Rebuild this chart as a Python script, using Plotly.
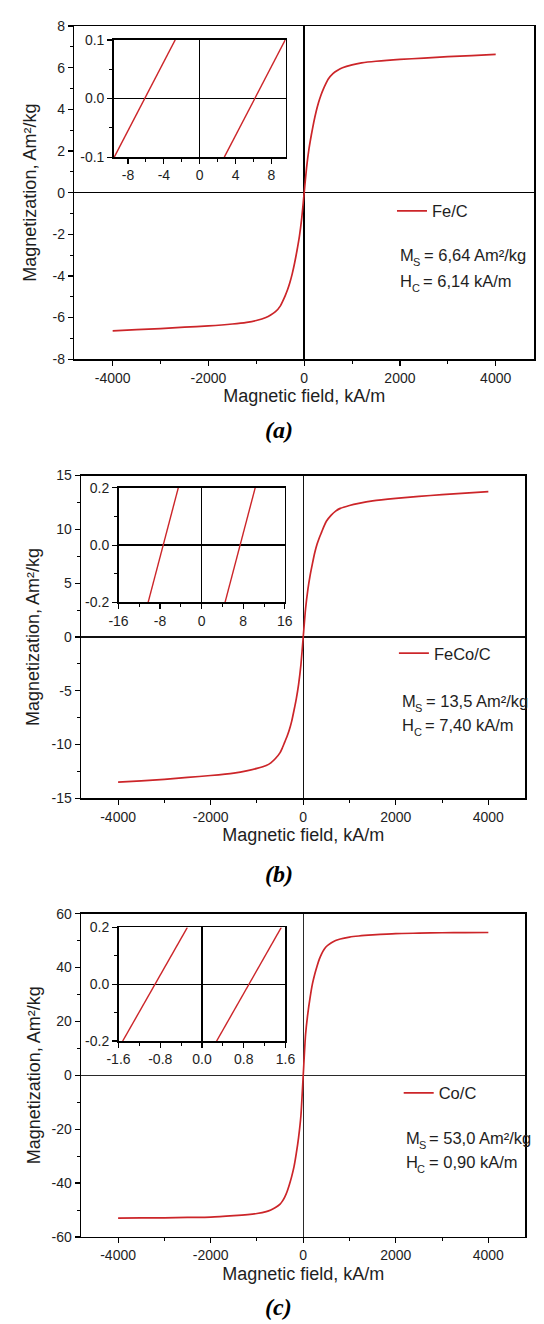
import plotly.graph_objects as go

# ---------------------------------------------------------------
# Magnetisation loops M(H) of the carbon-encapsulated nanoparticles
# ---------------------------------------------------------------

# common field grid of the main loops, kA/m
field = [-4000, -3500, -3000, -2500, -2000, -1500, -1200, -1000, -800, -700, -600, -500,
         -450, -400, -350, -300, -250, -200, -150, -100, -50,
         0, 50, 100, 150, 200, 250, 300, 350, 400, 450, 500,
         600, 700, 800, 1000, 1200, 1500, 2000, 2500, 3000, 3500, 4000]

# magnetisation, Am^2/kg
fe_mag = [-6.64, -6.58, -6.53, -6.46, -6.40, -6.31, -6.23, -6.14, -6.00, -5.88, -5.72, -5.45,
          -5.22, -4.97, -4.68, -4.33, -3.90, -3.38, -2.78, -2.10, -1.20,
          0.00, 1.20, 2.10, 2.78, 3.38, 3.90, 4.33, 4.68, 4.97, 5.22, 5.45,
          5.72, 5.88, 6.00, 6.14, 6.23, 6.31, 6.40, 6.46, 6.53, 6.58, 6.64]
feco_mag = [-13.50, -13.37, -13.23, -13.06, -12.88, -12.65, -12.42, -12.22, -11.95, -11.70, -11.30, -10.75,
            -10.30, -9.77, -9.25, -8.63, -7.85, -6.84, -5.75, -4.40, -2.60,
            0.00, 2.60, 4.40, 5.75, 6.84, 7.85, 8.63, 9.25, 9.77, 10.30, 10.75,
            11.30, 11.70, 11.95, 12.22, 12.42, 12.65, 12.88, 13.06, 13.23, 13.37, 13.50]
co_mag = [-53.0, -52.95, -52.9, -52.75, -52.6, -52.1, -51.7, -51.3, -50.6, -50.0, -49.1, -47.8,
          -46.7, -45.2, -43.2, -40.6, -37.6, -34.0, -29.0, -23.0, -15.0,
          0.0, 15.0, 23.0, 29.0, 34.0, 37.6, 40.6, 43.2, 45.2, 46.7, 47.8,
          49.1, 50.0, 50.6, 51.3, 51.7, 52.1, 52.6, 52.75, 52.9, 52.95, 53.0]

# low-field detail of the loops (descending and ascending branches)
fe_desc_field = [-9.54, -6.14, -2.74]
fe_asc_field = [2.74, 6.14, 9.54]
fe_inset_mag = [-0.1, 0.0, 0.1]

feco_desc_field = [-10.3, -7.40, -4.5]
feco_asc_field = [4.5, 7.40, 10.3]
feco_inset_mag = [-0.2, 0.0, 0.2]

co_desc_field = [-1.52, -0.90, -0.28]
co_asc_field = [0.28, 0.90, 1.52]
co_inset_mag = [-0.2, 0.0, 0.2]

# sample names and fitted parameters
samples = ["Fe/C", "FeCo/C", "Co/C"]
ms_text = ["6,64", "13,5", "53,0"]
hc_text = ["6,14", "7,40", "0,90"]
panel_tags = ["(a)", "(b)", "(c)"]

# tick values
field_ticks = [-4000, -2000, 0, 2000, 4000]
fe_mag_ticks = [-8, -6, -4, -2, 0, 2, 4, 6, 8]
feco_mag_ticks = [-15, -10, -5, 0, 5, 10, 15]
co_mag_ticks = [-60, -40, -20, 0, 20, 40, 60]
fe_inset_field_ticks = [-8, -4, 0, 4, 8]
feco_inset_field_ticks = [-16, -8, 0, 8, 16]
co_inset_field_ticks = [-1.6, -0.8, 0.0, 0.8, 1.6]
fe_inset_mag_ticks = [-0.1, 0.0, 0.1]
big_inset_mag_ticks = [-0.2, 0.0, 0.2]

# ---------------------------------------------------------------
W, H = 544, 1324
RED = "#cc2529"
INK = "#1e1e1e"
SANS = "Liberation Sans, Arial, sans-serif"


def px(x):
    return x / W


def py(y):
    return 1 - y / H


def midpoints(vals):
    return [(a + b) / 2 for a, b in zip(vals[:-1], vals[1:])]


def fmt(v, dec=None):
    return f"{v:.{dec}f}" if dec is not None else f"{v:g}"


def axis(dom, rng, ticks, dec=None, font=14, zw=1.5, zc="black",
         title=None, standoff=None, lw=1.5):
    minor_vals = midpoints(ticks)
    step = ticks[1] - ticks[0]
    lo, hi = sorted(rng)
    if ticks[0] - step / 2 >= lo:
        minor_vals = [ticks[0] - step / 2] + minor_vals
    if ticks[-1] + step / 2 <= hi:
        minor_vals = minor_vals + [ticks[-1] + step / 2]
    d = dict(
        domain=dom, range=rng, showgrid=False,
        showline=True, linecolor="black", linewidth=lw, mirror=True,
        ticks="outside", ticklen=5, tickwidth=1.2, tickcolor="black",
        tickmode="array", tickvals=ticks, ticktext=[fmt(v, dec) for v in ticks],
        tickfont=dict(family=SANS, size=font, color=INK),
        minor=dict(ticks="outside", ticklen=3, tickwidth=1, tickcolor="black",
                   tickmode="array", tickvals=minor_vals, showgrid=False),
        zeroline=True, zerolinecolor=zc, zerolinewidth=zw,
        fixedrange=True,
    )
    if title is not None:
        d["title"] = dict(text=title, font=dict(family=SANS, size=18, color=INK),
                          standoff=standoff)
    return d


def label(text, x, y, size=16.5):
    return dict(text=text, xref="paper", yref="paper", x=px(x), y=py(y),
                xanchor="left", yanchor="middle", showarrow=False,
                font=dict(family=SANS, size=size, color=INK))


fig = go.Figure()

# panel geometry (pixels): main plot box and inset box
panels = [
    dict(main=(65, 544, 18.3, 355.5), inset=(106, 285.3, 32.3, 151),
         mag=fe_mag, mticks=fe_mag_ticks, mrange=[-8, 8],
         desc=fe_desc_field, asc=fe_asc_field, imag=fe_inset_mag,
         ifticks=fe_inset_field_ticks, ifrange=[-9.6, 9.6], ifdec=None,
         imticks=fe_inset_mag_ticks, imrange=[-0.1, 0.1],
         zw=1.6, zc="black", ystand=11,
         legend=(401, 205.7), ms_y=250, hc_y=276.7, txt_x=402, tag_y=427),
    dict(main=(72, 535, 473.3, 800), inset=(111, 284.3, 485.7, 601.7),
         mag=feco_mag, mticks=feco_mag_ticks, mrange=[-15, 15],
         desc=feco_desc_field, asc=feco_asc_field, imag=feco_inset_mag,
         ifticks=feco_inset_field_ticks, ifrange=[-16, 16], ifdec=None,
         imticks=big_inset_mag_ticks, imrange=[-0.2, 0.2],
         zw=1.3, zc="#111111", ystand=7,
         legend=(403, 653.3), ms_y=701.7, hc_y=725.5, txt_x=404, tag_y=876.5),
    dict(main=(72, 535, 916.7, 1244), inset=(111, 285, 930.7, 1045.7),
         mag=co_mag, mticks=co_mag_ticks, mrange=[-60, 60],
         desc=co_desc_field, asc=co_asc_field, imag=co_inset_mag,
         ifticks=co_inset_field_ticks, ifrange=[-1.6, 1.6], ifdec=1,
         imticks=big_inset_mag_ticks, imrange=[-0.2, 0.2],
         zw=1.0, zc="#2a2a2a", ystand=6,
         legend=(408, 1098.5), ms_y=1144.3, hc_y=1168.3, txt_x=408, tag_y=1314.5),
]

layout = dict(
    width=W, height=H, autosize=False,
    margin=dict(l=0, r=0, t=0, b=0, pad=0),
    paper_bgcolor="white", plot_bgcolor="white",
    showlegend=True,
    annotations=[],
)

for i, p in enumerate(panels):
    mx, ix = 2 * i + 1, 2 * i + 2
    mxa = "xaxis" if mx == 1 else f"xaxis{mx}"
    mya = "yaxis" if mx == 1 else f"yaxis{mx}"
    ixa, iya = f"xaxis{ix}", f"yaxis{ix}"
    mxr = "x" if mx == 1 else f"x{mx}"
    myr = "y" if mx == 1 else f"y{mx}"
    leg = "legend" if i == 0 else f"legend{i + 1}"

    # main loop
    fig.add_trace(go.Scatter(
        x=field, y=p["mag"], mode="lines", name=samples[i],
        line=dict(color=RED, width=1.7, shape="spline", smoothing=0.6),
        xaxis=mxr, yaxis=myr, legend=leg, showlegend=True,
    ))
    # low-field detail
    for br in (p["desc"], p["asc"]):
        fig.add_trace(go.Scatter(
            x=br, y=p["imag"], mode="lines", line=dict(color=RED, width=1.4),
            xaxis=f"x{ix}", yaxis=f"y{ix}", showlegend=False,
        ))

    l, r, t, b = p["main"]
    layout[mxa] = axis([px(l), px(r)], [-4800, 4800], field_ticks, zw=p["zw"], zc=p["zc"],
                       title="Magnetic field, kA/m", standoff=5)
    layout[mxa]["anchor"] = myr
    layout[mya] = axis([py(b), py(t)], p["mrange"], p["mticks"], zw=p["zw"], zc=p["zc"],
                       title="Magnetization, Am²/kg", standoff=p["ystand"])
    layout[mya]["anchor"] = mxr

    l, r, t, b = p["inset"]
    layout[ixa] = axis([px(l), px(r)], p["ifrange"], p["ifticks"], dec=p["ifdec"],
                       font=14, zw=1.3, zc="black")
    layout[ixa]["anchor"] = f"y{ix}"
    layout[iya] = axis([py(b), py(t)], p["imrange"], p["imticks"], dec=1,
                       font=14, zw=1.3, zc="black")
    layout[iya]["anchor"] = f"x{ix}"

    lx, ly = p["legend"]
    layout[leg] = dict(x=px(lx - 5), y=py(ly), xanchor="left", yanchor="middle",
                       bgcolor="rgba(0,0,0,0)", borderwidth=0,
                       font=dict(family=SANS, size=16.5, color=INK))

    # saturation magnetisation and coercivity, with lowered subscripts
    tx = p["txt_x"]
    layout["annotations"] += [
        label("M", tx, p["ms_y"]),
        label("S", tx + 14, p["ms_y"] + 7, size=11),
        label(f"= {ms_text[i]} Am²/kg", tx + 25, p["ms_y"]),
        label("H", tx, p["hc_y"]),
        label("C", tx + 12.5, p["hc_y"] + 7, size=11),
        label(f"= {hc_text[i]} kA/m", tx + 24, p["hc_y"]),
        dict(text=f"<b><i>{panel_tags[i]}</i></b>", xref="paper", yref="paper",
             x=px(278), y=py(p["tag_y"]), xanchor="center", yanchor="middle",
             showarrow=False, font=dict(family="Liberation Serif, Times New Roman, serif",
                                        size=24, color="black")),
    ]

fig.update_layout(**layout)
fig.write_html("out.html", config={"staticPlot": True})
